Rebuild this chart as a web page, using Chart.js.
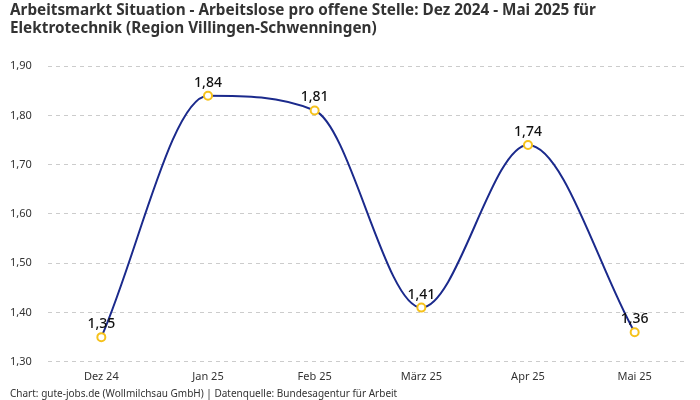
<!DOCTYPE html>
<html>
<head>
<meta charset="utf-8">
<script src="https://cdn.jsdelivr.net/npm/chart.js@4"></script>
<style>
  html, body { margin: 0; padding: 0; background: #fff; }
  #wrap { width: 700px; height: 400px; }
</style>
</head>
<body>
<div id="wrap"><canvas id="chart"></canvas></div>
<script>
// Arbeitslose pro offene Stelle, Elektrotechnik (Region Villingen-Schwenningen)
var months = ["Dez 24", "Jan 25", "Feb 25", "März 25", "Apr 25", "Mai 25"];
var ratio = [1.35, 1.84, 1.81, 1.41, 1.74, 1.36];

var fontFamily = "'Noto Sans', sans-serif";
var textColor = "#333333";

function fmt(v) {
    return v.toFixed(2).replace(".", ",");
}

// simple value labels above each point
var valueLabels = {
    id: "valueLabels",
    afterDatasetsDraw: function (chart) {
        var ctx = chart.ctx;
        var meta = chart.getDatasetMeta(0);
        ctx.save();
        ctx.font = "500 14px " + fontFamily;
        ctx.fillStyle = "#111111";
        ctx.textAlign = "center";
        ctx.textBaseline = "bottom";
        meta.data.forEach(function (pt, i) {
            ctx.fillText(fmt(ratio[i]), pt.x, pt.y - 6);
        });
        ctx.restore();
    }
};

new Chart(document.getElementById("chart"), {
    type: "line",
    data: {
        labels: months,
        datasets: [{
            data: ratio,
            borderColor: "#1b2a8c",
            borderWidth: 2,
            cubicInterpolationMode: "monotone",
            pointBackgroundColor: "#ffffff",
            pointBorderColor: "#f6c21c",
            pointBorderWidth: 2,
            pointRadius: 4
        }]
    },
    options: {
        responsive: true,
        maintainAspectRatio: false,
        animation: false,
        layout: { padding: { left: 10, right: 12, top: 2, bottom: 0 } },
        plugins: {
            legend: { display: false },
            tooltip: { enabled: false },
            title: {
                display: true,
                align: "start",
                text: [
                    "Arbeitsmarkt Situation - Arbeitslose pro offene Stelle: Dez 2024 - Mai 2025 für",
                    "Elektrotechnik (Region Villingen-Schwenningen)"
                ],
                color: textColor,
                font: { family: fontFamily, size: 15.3, weight: "bold", lineHeight: 1.18 },
                padding: { top: 0, bottom: 28 }
            },
            subtitle: {
                display: true,
                position: "bottom",
                align: "start",
                text: "Chart: gute-jobs.de (Wollmilchsau GmbH) | Datenquelle: Bundesagentur für Arbeit",
                color: textColor,
                font: { family: fontFamily, size: 10 },
                padding: { top: 5, bottom: 0 }
            }
        },
        scales: {
            x: {
                offset: true,
                grid: { display: false },
                border: { display: false },
                ticks: { color: textColor, font: { family: fontFamily, size: 11 }, padding: 0 }
            },
            y: {
                min: 1.3,
                max: 1.9,
                afterFit: function (scale) { scale.width = 38; },
                grid: { color: "#cccccc", drawTicks: false },
                border: { display: false, dash: [4, 4] },
                ticks: {
                    stepSize: 0.1,
                    color: textColor,
                    font: { family: fontFamily, size: 11 },
                    crossAlign: "far",
                    padding: 10,
                    callback: function (v) { return fmt(v); }
                }
            }
        }
    },
    plugins: [valueLabels]
});
</script>
</body>
</html>
